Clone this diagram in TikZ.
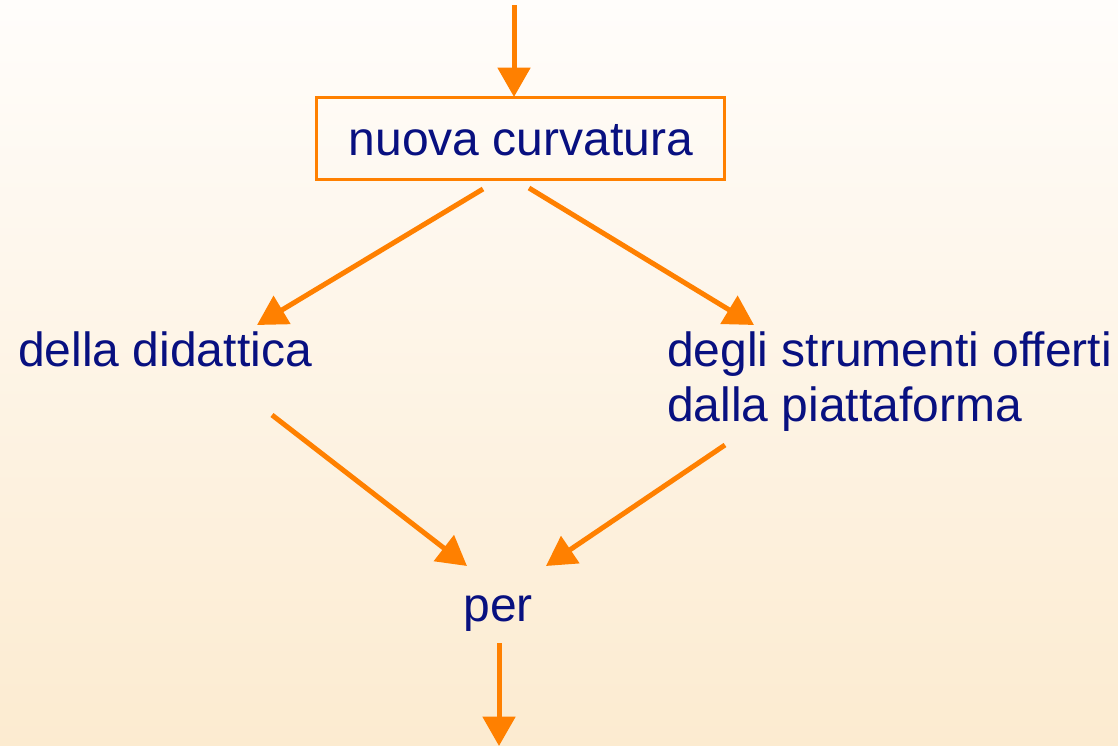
\documentclass[tikz,border=0pt]{standalone}
\usepackage{fontspec}
\setmainfont{Liberation Sans}
\usetikzlibrary{arrows.meta,calc}
\definecolor{arrowor}{RGB}{255,128,0}
\definecolor{txtnavy}{RGB}{8,16,128}
\definecolor{bgtop}{RGB}{255,253,251}
\definecolor{bgbot}{RGB}{252,235,208}
\begin{document}
\begin{tikzpicture}[x=0.75pt,y=-0.75pt,
  lbl/.style={text=txtnavy,font=\fontsize{36}{41.25}\selectfont,inner sep=0pt},
  conn/.style={draw=arrowor,line width=3.75pt,-{Triangle[width=24pt,length=22pt]}},
  framebox/.style={draw=arrowor,line width=2.4pt,minimum width=306pt,minimum height=61.5pt,inner sep=0pt}]
\shade[top color=bgtop,bottom color=bgbot] (0,0) rectangle (1118,746);
\useasboundingbox (0,0) rectangle (1118,746);
% nodes
\node[framebox,lbl] (box) at (520.5,138.5) {};
\node[lbl,anchor=base] (boxtxt) at (521,155) {nuova curvatura};
\node[lbl,anchor=base west] (left) at (18,366) {della didattica};
\node[lbl,anchor=base west,align=left] (right) at (667,421) {degli strumenti offerti\\dalla piattaforma};
\node[lbl,anchor=base] (per) at (498,621) {per};
% free ends
\coordinate (topstart) at (514,5);
\coordinate (topend) at (514,97);
\coordinate (l1s) at (483,189);
\coordinate (l1e) at (257,325);
\coordinate (r1s) at (529,188);
\coordinate (r1e) at (754,325);
\coordinate (l2s) at (272,415);
\coordinate (l2e) at (467,566);
\coordinate (r2s) at (725,445);
\coordinate (r2e) at (546,566);
\coordinate (bs) at (499,643);
\coordinate (be) at (499,746);
% connectors
\draw[conn] (topstart) -- (topend);
\draw[conn] (l1s) -- (l1e);
\draw[conn] (r1s) -- (r1e);
\draw[conn] (l2s) -- (l2e);
\draw[conn] (r2s) -- (r2e);
\draw[conn] (bs) -- (be);
\end{tikzpicture}
\end{document}
